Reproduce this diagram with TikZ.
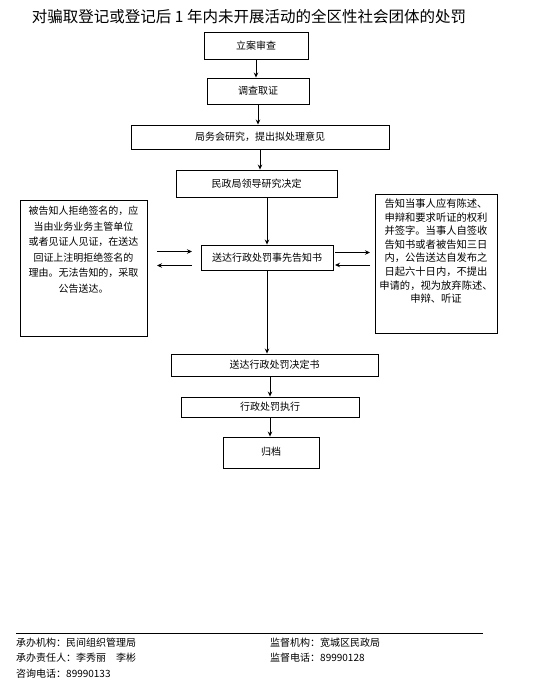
\documentclass[tikz,border=0pt]{standalone}
\usepackage{fontspec}
\setmainfont{Noto Sans CJK SC}
\usetikzlibrary{arrows.meta}
\tikzset{
  box/.style={draw, line width=0.9pt, inner sep=0pt, font=\fontsize{10}{12}\selectfont},
  txt/.style={inner sep=0pt, align=center},
  arr/.style={line width=0.9pt, -{Stealth[length=5pt,width=4.5pt]}},
  foot/.style={inner sep=0pt, anchor=west, font=\fontsize{10}{12}\selectfont}
}
\begin{document}
\begin{tikzpicture}[x=1pt,y=-1pt]
\useasboundingbox (0,0) rectangle (539,683);
\node[txt, font=\fontsize{15.5}{18}\selectfont] (title) at (249,17) {对骗取登记或登记后 1 年内未开展活动的全区性社会团体的处罚};
\node[box, minimum width=104pt, minimum height=27pt] (n1) at (256,45.5) {立案审查};
\node[box, minimum width=102pt, minimum height=26pt] (n2) at (258,91) {调查取证};
\node[box, minimum width=258pt, minimum height=24pt] (n3) at (260,137) {局务会研究，提出拟处理意见};
\node[box, minimum width=161pt, minimum height=27pt] (n4) at (256.5,183.5) {民政局领导研究决定};
\node[box, minimum width=132pt, minimum height=25pt] (mid) at (267,257.5) {送达行政处罚事先告知书};
\node[box, minimum width=127pt, minimum height=136pt] (lbox) at (83.5,268) {};
\node[txt, anchor=north, font=\fontsize{10}{15.5}\selectfont] (ltxt) at (83.5,206) {被告知人拒绝签名的，应\\当由业务业务主管单位\\或者见证人见证，在送达\\回证上注明拒绝签名的\\理由。无法告知的，采取\\公告送达。};
\node[box, minimum width=122pt, minimum height=139pt] (rbox) at (436,263.5) {};
\node[txt, anchor=north, font=\fontsize{10.3}{13.6}\selectfont] (rtxt) at (436,198.5) {告知当事人应有陈述、\\申辩和要求听证的权利\\并签字。当事人自签收\\告知书或者被告知三日\\内，公告送达自发布之\\日起六十日内，不提出\\申请的，视为放弃陈述、\\申辩、听证};
\node[box, minimum width=207pt, minimum height=22pt] (dec) at (274.5,365) {送达行政处罚决定书};
\node[box, minimum width=178pt, minimum height=20pt] (exe) at (270,407) {行政处罚执行};
\node[box, minimum width=96pt, minimum height=31pt] (arch) at (271,452.5) {\raisebox{3pt}{归档}};
\draw[arr] (n1.south) -- (n1.south |- n2.north);
\draw[arr] (n2.south) -- (n2.south |- n3.north);
\draw[arr] (n3.south) -- (n3.south |- n4.north);
\draw[arr] (mid.north |- n4.south) -- (mid.north);
\draw[arr] (mid.south) -- (mid.south |- dec.north);
\draw[arr] (exe.north |- dec.south) -- (exe.north);
\draw[arr] (exe.south) -- (exe.south |- arch.north);
\coordinate (la1) at (157,251.5);
\coordinate (la2) at (192,251.5);
\coordinate (lb1) at (192,265.5);
\coordinate (lb2) at (157,265.5);
\coordinate (ra1) at (335,252.5);
\coordinate (ra2) at (370,252.5);
\coordinate (rb1) at (370,265);
\coordinate (rb2) at (335,265);
\draw[arr] (la1) -- (la2);
\draw[arr] (lb1) -- (lb2);
\draw[arr] (ra1) -- (ra2);
\draw[arr] (rb1) -- (rb2);
\coordinate (fl) at (16,633);
\coordinate (fr) at (483,633);
\draw[line width=0.9pt] (fl) -- (fr);
\node[foot] (f1) at (16,643) {承办机构：民间组织管理局};
\node[foot] (f2) at (16,658) {承办责任人：李秀丽\quad 李彬};
\node[foot] (f3) at (16,673.5) {咨询电话：89990133};
\node[foot] (f4) at (270,643) {监督机构：宽城区民政局};
\node[foot] (f5) at (270,658) {监督电话：89990128};
\end{tikzpicture}
\end{document}
